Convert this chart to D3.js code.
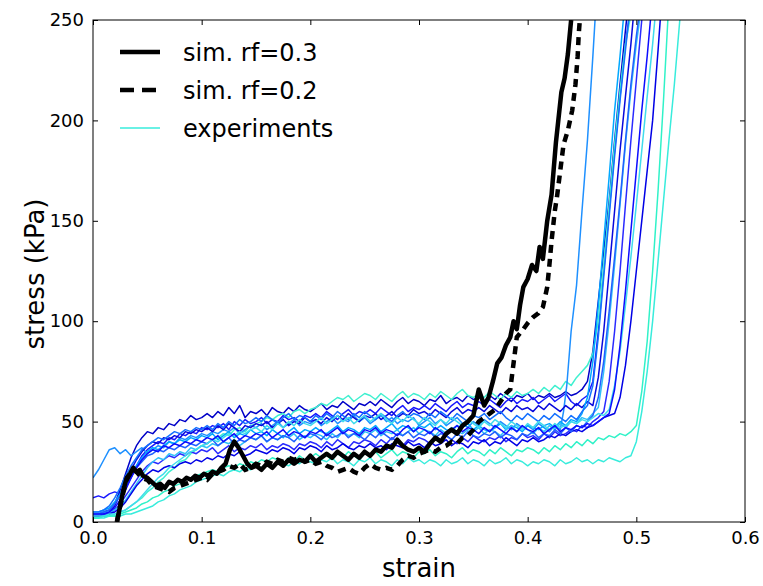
<!DOCTYPE html>
<html>
<head>
<meta charset="utf-8">
<script src="https://cdn.jsdelivr.net/npm/d3@7"></script>
<style>
  body { margin: 0; background: #fff; }
  svg { display: block; }
  text { font-family: "DejaVu Sans", sans-serif; }
</style>
</head>
<body>
<div id="chart"></div>
<script>
'use strict';

// strain grid for the plateau part of every experiment (step 0.005)
const strainGrid = [
  0, 0.005, 0.01, 0.015, 0.02, 0.025, 0.03, 0.035, 0.04, 0.045,
  0.05, 0.055, 0.06, 0.065, 0.07, 0.075, 0.08, 0.085, 0.09, 0.095,
  0.1, 0.105, 0.11, 0.115, 0.12, 0.125, 0.13, 0.135, 0.14, 0.145,
  0.15, 0.155, 0.16, 0.165, 0.17, 0.175, 0.18, 0.185, 0.19, 0.195,
  0.2, 0.205, 0.21, 0.215, 0.22, 0.225, 0.23, 0.235, 0.24, 0.245,
  0.25, 0.255, 0.26, 0.265, 0.27, 0.275, 0.28, 0.285, 0.29, 0.295,
  0.3, 0.305, 0.31, 0.315, 0.32, 0.325, 0.33, 0.335, 0.34, 0.345,
  0.35, 0.355, 0.36, 0.365, 0.37, 0.375, 0.38, 0.385, 0.39, 0.395,
  0.4, 0.405, 0.41, 0.415, 0.42, 0.425, 0.43, 0.435, 0.44, 0.445,
  0.45, 0.455, 0.46, 0.465, 0.47, 0.475, 0.48, 0.485, 0.49, 0.495, 0.5
];

// experiments: plateau stress (kPa) on strainGrid, then the densification rise [strain, stress]
const exp01 = [4,4,5,6,9,16,24,32,38,42,45, 44,47,46,49,48,51,50,53,51,52, 54,52,55,53,57,54,58,52,55,54,
  56,53,57,55,54,57,55,58,56,55, 57,59,56,58,57,60,58,56,59,58, 60,58,61,59,57,60,62,59,61,60,
  58,61,60,63,59,61,62,60,63,61, 62,60,63,61,64,62,60,63,62,64, 61,63,62,64,62,63,65,63,64,66];
const exp01Rise = [[0.455,70],[0.46,85],[0.465,110],[0.47,135],[0.475,160],[0.48,190],[0.485,218],[0.49,245],[0.491,250]];

const exp02 = [12,13,12,14,15,14,17,22,28,33,36, 38,40,39,42,41,44,43,45,44,47, 46,48,47,49,46,50,48,51,49,50,
  52,49,51,50,53,51,52,50,53,52, 54,52,55,53,51,54,56,53,55,54, 56,54,57,55,53,56,58,55,57,56,
  58,56,59,57,55,58,60,57,59,58, 60,58,61,59,57,60,62,59,61,60, 62,59,61,63,60,62,64,60,58,61,63];
const exp02Rise = [[0.46,70],[0.465,95],[0.47,125],[0.475,155],[0.48,185],[0.485,212],[0.49,238],[0.493,250]];

const exp03 = [2,2,3,3,4,5,6,8,10,12,15, 17,20,22,25,27,30,31,34,36,38, 39,41,42,44,43,46,47,45,48,49,
  50,52,51,53,54,52,55,56,54,56, 57,59,58,60,62,61,63,60,62,64, 63,61,64,62,60,63,65,62,64,63,
  61,64,62,65,63,61,64,66,63,62, 64,62,65,63,61,64,62,65,63,64, 66,64,67,65,68,66,70,68,72,75];
const exp03Rise = [[0.455,78],[0.46,84],[0.465,100],[0.47,128],[0.475,158],[0.48,188],[0.485,215],[0.49,238],[0.494,250]];

const exp04 = [22,26,31,36,37,34,36,33,35,37,34, 36,38,37,40,39,42,41,43,42,44, 43,45,44,46,45,47,44,46,48,47,
  49,46,48,50,47,49,51,48,50,49, 51,48,50,52,49,51,50,53,50,52, 49,51,53,50,52,49,51,50,52,48,
  50,52,49,51,48,50,52,49,47,50, 48,51,49,47,50,48,46,49,47,48, 46,49,47,45,48,46];
const exp04Rise = [[0.433,55],[0.436,68],[0.44,95],[0.445,118],[0.45,155],[0.455,190],[0.46,232],[0.462,250]];

const exp05 = [3,3,4,5,8,14,20,26,31,35,38, 40,39,42,41,43,42,45,44,46,45, 47,45,48,46,49,47,45,48,47,49,
  48,50,47,49,51,48,50,49,52,50, 51,49,52,50,53,51,54,52,50,53, 52,54,51,53,55,52,54,53,56,54,
  55,53,56,54,52,55,57,54,56,55, 57,55,58,56,54,57,55,58,56,57, 55,58,56,59,57,55,58,56,59,57,60,58];
const exp05Rise = [[0.465,72],[0.47,95],[0.475,125],[0.48,155],[0.485,185],[0.49,212],[0.495,238],[0.497,250]];

const exp06 = [5,5,6,7,10,14,19,24,28,32,35, 37,36,38,40,39,41,40,42,41,43, 42,44,41,43,45,42,44,43,46,44,
  45,43,46,44,42,45,47,44,46,45, 47,45,44,46,48,45,47,46,44,47, 46,48,45,47,49,46,48,47,45,48,
  47,49,46,48,46,45,48,47,49,46, 48,46,45,47,49,46,48,47,45,48, 47,46,48,49,47,50,48,51,50,54];
const exp06Rise = [[0.455,62],[0.46,80],[0.465,108],[0.47,140],[0.475,172],[0.48,205],[0.485,232],[0.488,250]];

const exp07 = [3,3,4,4,6,9,13,17,21,25,28, 30,29,31,33,32,34,33,35,34,36, 35,37,34,36,38,35,37,36,38,37,
  39,36,38,37,39,38,36,39,38,40, 39,37,40,38,41,39,37,40,39,41, 40,38,41,39,42,40,38,41,40,42,
  41,39,42,40,43,41,39,42,40,43, 41,40,42,41,43,40,42,41,44,42, 43,41,44,42,45,43,44,46,45,48,47,50,52,55];
const exp07Rise = [[0.475,70],[0.48,95],[0.485,125],[0.49,158],[0.495,190],[0.5,220],[0.505,250]];

const exp08 = [4,4,5,5,6,8,11,15,19,23,27, 30,32,31,34,33,35,34,37,36,38, 37,39,38,40,39,41,38,40,42,41,
  43,40,42,41,43,42,44,41,43,42, 44,43,41,44,42,45,43,44,42,45, 44,46,43,45,44,46,43,45,47,44,
  46,45,43,46,44,47,45,44,46,45, 47,44,46,45,43,46,48,45,47,46, 44,47,45,48,46,49,47,50,49,52,51,54,57];
const exp08Rise = [[0.47,75],[0.475,100],[0.48,128],[0.485,158],[0.49,188],[0.495,215],[0.5,238],[0.503,250]];

const exp09 = [3,3,3,4,5,7,10,14,18,21,24, 26,25,27,28,27,29,30,29,31,30, 32,31,33,32,34,33,35,33,34,36,
  35,34,36,35,37,36,34,37,36,38, 37,35,38,36,37,39,37,36,38,37, 39,37,38,36,39,38,37,40,38,39,
  37,40,38,39,41,38,40,39,37,40, 39,41,38,40,39,42,40,38,41,40, 42,40,41,43,42,44,43,45,46,45,47,48,50,52,53,54];
const exp09Rise = [[0.485,62],[0.49,78],[0.495,100],[0.5,125],[0.505,150],[0.51,175],[0.515,200],[0.52,235],[0.522,250]];

const exp10 = [4,4,5,6,9,13,18,23,27,30,33, 34,36,35,37,36,38,37,39,38,40, 39,41,38,40,42,39,41,40,42,41,
  43,40,42,41,43,42,40,43,42,44, 43,41,44,42,43,45,42,44,43,41, 44,42,45,43,41,44,43,45,42,44,
  43,45,42,44,43,41,44,42,45,43, 42,44,43,45,42,44,43,41,44,43, 45,42,44,43,46,44,47,45,48,47,50,53];
const exp10Rise = [[0.465,62],[0.47,80],[0.475,105],[0.48,132],[0.485,160],[0.49,190],[0.495,218],[0.5,242],[0.502,250]];

const exp11 = [2,2,2,3,3,3,4,4,5,6,7, 8,10,11,13,14,16,17,18,20,21, 22,23,24,23,25,26,25,27,26,28,
  27,29,28,30,29,28,30,29,31,30, 29,31,30,32,29,31,30,28,31,30, 32,29,31,30,28,31,29,32,30,31,
  29,31,30,28,31,29,30,32,29,31, 30,28,31,29,30,32,29,31,30,28, 30,29,31,30,28,31,29,30,32,30,31,29,31,30,32,31,30,32,33];
const exp11Rise = [[0.5,40],[0.505,55],[0.51,75],[0.515,100],[0.52,130],[0.525,160],[0.53,190],[0.535,218],[0.54,250]];

const exp12 = [2,2,3,3,3,4,5,6,7,9,10, 12,13,15,16,18,19,21,22,23,24, 25,26,25,27,28,27,29,28,30,29,
  31,30,32,31,29,32,30,33,31,32, 34,32,33,31,34,32,35,33,31,34, 33,35,32,34,36,33,35,34,32,35,
  34,36,33,35,34,32,35,37,34,36, 35,33,36,34,37,35,33,36,35,37, 36,34,37,35,38,36,39,37,40,38,41,39,42,41,43,42,44,43,45];
const exp12Rise = [[0.5,48],[0.505,65],[0.51,90],[0.515,125],[0.52,165],[0.525,210],[0.529,250]];

const exp13 = [5,5,6,8,12,17,23,28,32,36,38, 40,42,41,43,45,44,46,45,47,46, 48,46,49,47,50,48,51,49,50,52,
  50,53,51,49,52,54,51,53,52,50, 53,51,54,52,55,53,51,54,52,55, 53,51,54,52,50,53,55,52,54,53,
  51,54,52,55,53,51,54,52,50,53, 52,54,51,53,55,52,50,53,51,54, 52,50,53,51,54,52,50,53,51,55,58];
const exp13Rise = [[0.46,68],[0.465,92],[0.47,122],[0.475,152],[0.48,182],[0.485,210],[0.49,235],[0.493,250]];

const exp14 = [3,3,3,4,4,5,6,8,10,13,16, 19,22,24,27,29,31,33,35,36,38, 39,41,40,42,44,43,45,44,46,47,
  45,48,46,49,47,50,48,51,49,48, 50,52,49,51,53,50,52,49,51,53, 50,52,54,51,49,52,50,53,51,49,
  52,50,48,51,49,52,50,48,51,49, 47,50,48,51,49,47,50,48,46,49, 47,50,48,46,49,47,48,50,49,51,50,52,54,53,56];
const exp14Rise = [[0.48,68],[0.485,85],[0.49,108],[0.495,132],[0.5,158],[0.505,185],[0.51,212],[0.515,238],[0.517,250]];

const exp15 = [4,4,4,5,7,11,16,22,27,31,34, 36,35,38,37,39,38,40,39,41,40, 42,41,43,40,42,44,41,43,42,44,
  43,45,42,44,46,43,45,44,42,45, 44,46,43,45,47,44,46,45,43,46, 45,47,44,46,45,43,46,48,45,47,
  46,44,47,45,43,46,48,45,47,46, 44,47,45,48,46,44,47,45,48,46, 45,47,44,46,48,45,47,46,48,47,49,48,50,52,54];
const exp15Rise = [[0.48,66],[0.485,88],[0.49,115],[0.495,145],[0.5,175],[0.505,205],[0.51,232],[0.513,250]];

const expPlateaus = [exp01, exp02, exp03, exp04, exp05, exp06, exp07, exp08, exp09, exp10, exp11, exp12, exp13, exp14, exp15];
const expRises = [exp01Rise, exp02Rise, exp03Rise, exp04Rise, exp05Rise, exp06Rise, exp07Rise, exp08Rise,
  exp09Rise, exp10Rise, exp11Rise, exp12Rise, exp13Rise, exp14Rise, exp15Rise];
const expColors = ["#0000c8", "#1818ff", "#40f0d0", "#1e90ff", "#0808dc", "#00a8ff", "#2a2aff", "#30c0f8",
  "#0000e6", "#2060ff", "#38ecdc", "#30f2c8", "#1470ff", "#40dcec", "#0d0dff"];

// simulations [strain, stress]
const simRf03 = [[0.022,0],[0.025,8],[0.028,16],[0.031,22],[0.034,24],[0.037,27],[0.04,25],[0.043,26],[0.046,23],
  [0.05,22],[0.054,20],[0.058,18],[0.062,19],[0.066,17],[0.07,20],[0.074,19],[0.078,21],[0.082,20],[0.086,22],
  [0.09,21],[0.094,23],[0.098,22],[0.102,24],[0.106,23],[0.11,25],[0.114,24],[0.118,27],[0.122,29],[0.126,36],
  [0.13,40],[0.134,37],[0.138,33],[0.142,29],[0.146,27],[0.15,28],[0.155,26],[0.16,29],[0.165,27],[0.17,30],
  [0.175,28],[0.18,31],[0.185,29],[0.19,31],[0.195,30],[0.2,33],[0.205,30],[0.21,32],[0.215,34],[0.22,32],
  [0.225,35],[0.23,33],[0.235,31],[0.24,34],[0.245,32],[0.25,35],[0.255,33],[0.26,36],[0.265,35],[0.27,38],
  [0.275,37],[0.28,41],[0.285,38],[0.29,36],[0.295,35],[0.3,37],[0.305,35],[0.31,39],[0.315,42],[0.32,40],
  [0.325,44],[0.33,46],[0.335,44],[0.34,48],[0.345,50],[0.35,53],[0.355,66],[0.36,58],[0.364,62],[0.368,70],
  [0.372,79],[0.376,82],[0.38,88],[0.384,92],[0.387,100],[0.39,96],[0.393,108],[0.396,117],[0.4,121],
  [0.404,128],[0.408,125],[0.411,137],[0.414,131],[0.418,150],[0.422,163],[0.426,189],[0.431,214],
  [0.434,221],[0.437,233],[0.44,250]];

const simRf02 = [[0.022,0],[0.025,8],[0.028,15],[0.031,21],[0.034,24],[0.037,26],[0.04,25],[0.045,22],[0.05,21],
  [0.055,18],[0.06,17],[0.065,16],[0.07,15],[0.075,17],[0.08,18],[0.085,19],[0.09,20],[0.095,21],[0.1,22],
  [0.105,21],[0.11,24],[0.115,25],[0.12,26],[0.125,28],[0.13,27],[0.135,29],[0.14,26],[0.145,27],[0.15,29],
  [0.155,28],[0.16,30],[0.165,29],[0.17,31],[0.175,30],[0.18,32],[0.185,31],[0.19,32],[0.195,30],[0.2,31],
  [0.205,29],[0.21,30],[0.215,28],[0.22,27],[0.225,25],[0.23,26],[0.235,27],[0.24,25],[0.245,24],[0.25,27],
  [0.255,29],[0.26,27],[0.265,26],[0.27,27],[0.275,26],[0.28,28],[0.285,31],[0.29,33],[0.295,32],[0.3,34],
  [0.305,35],[0.31,36],[0.315,35],[0.32,37],[0.325,38],[0.33,40],[0.335,39],[0.34,42],[0.345,43],[0.35,46],
  [0.355,50],[0.36,52],[0.365,54],[0.37,56],[0.375,60],[0.38,64],[0.384,66],[0.387,79],[0.39,92],[0.396,96],
  [0.4,99],[0.405,102],[0.41,104],[0.414,107],[0.418,117],[0.42,128],[0.422,140],[0.425,155],[0.427,162],
  [0.43,175],[0.433,188],[0.437,195],[0.441,205],[0.444,218],[0.446,232],[0.447,243],[0.448,250]];

const xTicks = [0, 0.1, 0.2, 0.3, 0.4, 0.5, 0.6];
const yTicks = [0, 50, 100, 150, 200, 250];
const legendLabels = ["sim. rf=0.3", "sim. rf=0.2", "experiments"];

const width = 763, height = 586;
const margin = { top: 20, right: 18, bottom: 64, left: 93 };
const plotW = width - margin.left - margin.right;
const plotH = height - margin.top - margin.bottom;

const svg = d3.select("#chart").append("svg")
  .attr("width", width)
  .attr("height", height);

const x = d3.scaleLinear().domain([0, 0.6]).range([0, plotW]);
const y = d3.scaleLinear().domain([0, 250]).range([plotH, 0]);

const chart = svg.append("g")
  .attr("transform", `translate(${margin.left}, ${margin.top})`);

chart.append("clipPath").attr("id", "plot-clip")
  .append("rect").attr("width", plotW).attr("height", plotH);

const line = d3.line()
  .x(d => x(d[0]))
  .y(d => y(d[1]));

const lines = chart.append("g").attr("clip-path", "url(#plot-clip)");

expPlateaus.forEach(function (plateau, k) {
  const pts = plateau.map((v, i) => [strainGrid[i], v]).concat(expRises[k]);
  lines.append("path")
    .datum(pts)
    .attr("d", line)
    .attr("fill", "none")
    .attr("stroke", expColors[k])
    .attr("stroke-width", 1.5)
    .attr("stroke-linejoin", "round");
});

lines.append("path")
  .datum(simRf03)
  .attr("d", line)
  .attr("fill", "none")
  .attr("stroke", "#000")
  .attr("stroke-width", 4.5)
  .attr("stroke-linejoin", "round");

lines.append("path")
  .datum(simRf02)
  .attr("d", line)
  .attr("fill", "none")
  .attr("stroke", "#000")
  .attr("stroke-width", 4.5)
  .attr("stroke-dasharray", "8,6");

// Axes, ticks pointing inwards on all four sides
const xAxis = d3.axisBottom(x).tickValues(xTicks).tickSizeInner(-5).tickSizeOuter(0)
  .tickPadding(9).tickFormat(d3.format(".1f"));
const yAxis = d3.axisLeft(y).tickValues(yTicks).tickSizeInner(-5).tickSizeOuter(0)
  .tickPadding(9).tickFormat(d3.format("d"));

const gx = chart.append("g").attr("transform", `translate(0, ${plotH})`).call(xAxis);
const gy = chart.append("g").call(yAxis);
chart.append("g").call(d3.axisTop(x).tickValues(xTicks).tickSizeInner(-5).tickSizeOuter(0).tickFormat(""));
chart.append("g").attr("transform", `translate(${plotW}, 0)`)
  .call(d3.axisRight(y).tickValues(yTicks).tickSizeInner(-5).tickSizeOuter(0).tickFormat(""));

chart.selectAll(".domain").remove();
chart.selectAll(".tick line").attr("stroke", "#000");
[gx, gy].forEach(g => g.selectAll("text")
  .attr("fill", "#000")
  .style("font-size", "18px")
  .style("font-family", "DejaVu Sans"));

chart.append("rect")
  .attr("width", plotW)
  .attr("height", plotH)
  .attr("fill", "none")
  .attr("stroke", "#000")
  .attr("stroke-width", 1);

// Axis labels
svg.append("text")
  .text("strain")
  .attr("x", margin.left + plotW / 2)
  .attr("y", 577)
  .attr("text-anchor", "middle")
  .style("font-size", "26px");

svg.append("text")
  .text("stress (kPa)")
  .attr("transform", `translate(44, ${margin.top + plotH / 2 + 3}) rotate(-90)`)
  .attr("text-anchor", "middle")
  .style("font-size", "26px");

// Legend
const legend = chart.append("g").attr("transform", "translate(27, 32)");
const legendStyles = [
  { color: "#000", width: 4.5, dash: null },
  { color: "#000", width: 4.5, dash: "14,8" },
  { color: expColors[10], width: 1.5, dash: null }
];
legendLabels.forEach(function (label, i) {
  const row = legend.append("g").attr("transform", `translate(0, ${i * 38})`);
  row.append("line")
    .attr("x1", 0).attr("x2", 40)
    .attr("y1", 0).attr("y2", 0)
    .attr("stroke", legendStyles[i].color)
    .attr("stroke-width", legendStyles[i].width)
    .attr("stroke-dasharray", legendStyles[i].dash);
  row.append("text")
    .text(label)
    .attr("x", 63)
    .attr("dy", "0.36em")
    .style("font-size", "24px");
});
</script>
</body>
</html>
